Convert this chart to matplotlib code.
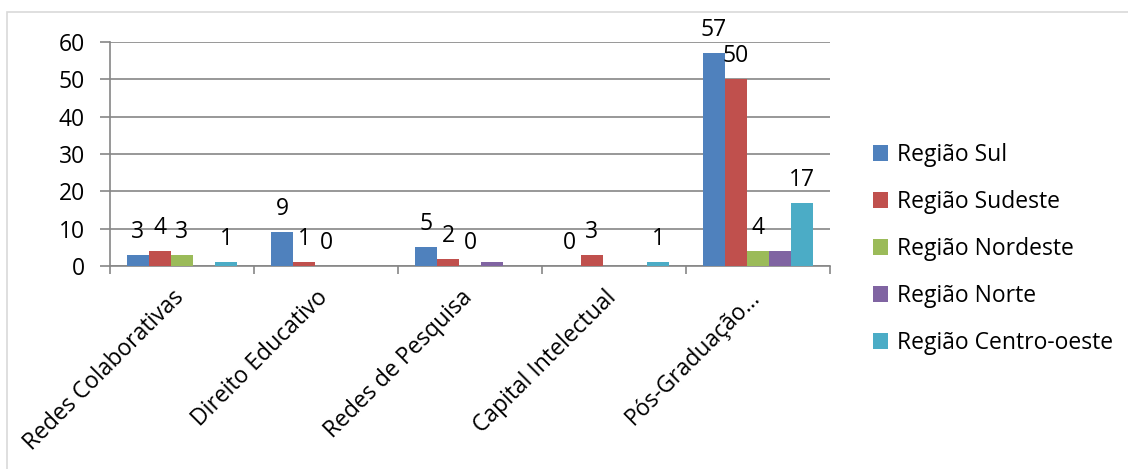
import numpy as np
import matplotlib
matplotlib.use("Agg")
import matplotlib.pyplot as plt
from matplotlib.transforms import ScaledTranslation
from matplotlib.patches import Rectangle

categories = ["Redes Colaborativas", "Direito Educativo", "Redes de Pesquisa",
              "Capital Intelectual", "Pós-Graduação…"]
series_names = ["Região Sul", "Região Sudeste", "Região Nordeste", "Região Norte",
                "Região Centro-oeste"]
nan = np.nan
sul = [3, 9, 5, 0, 57]
sudeste = [4, 1, 2, 3, 50]
nordeste = [3, 0, 0, nan, 4]
norte = [nan, nan, 1, nan, 4]
centro_oeste = [1, nan, nan, 1, 17]
show_labels = [True, True, True, False, True]
colors = ["#4F81BD", "#C0504D", "#9BBB59", "#8064A2", "#4BACC6"]
yticks = [0, 10, 20, 30, 40, 50, 60]

plt.rcParams['font.family'] = ['Open Sans', 'DejaVu Sans']
FS = 16.5
W, H = 1128, 469
DPI = 100
fig = plt.figure(figsize=(W / DPI, H / DPI), dpi=DPI)

# chart area border (top and left visible)
fig.patches.append(Rectangle((7 / W, -0.1), 1.2, (1 - 12 / H) + 0.1,
                             transform=fig.transFigure, fill=False,
                             edgecolor="#D9D9D9", lw=1.2))

ax = fig.add_axes([110 / W, (H - 266) / H, (830 - 110) / W, (266 - 42) / H])
grid_c = "#868686"
data = [sul, sudeste, nordeste, norte, centro_oeste]
x = np.arange(len(categories))
bw = 0.153
handles = []
for i, (vals, name, c) in enumerate(zip(data, series_names, colors)):
    off = (i - 2) * bw
    bars = ax.bar(x + off, vals, width=bw, color=c, label=name, zorder=3)
    handles.append(bars)
    if show_labels[i]:
        for xi, v in zip(x, vals):
            if np.isnan(v):
                continue
            ax.annotate(f"{int(v)}", xy=(xi + off, v), xytext=(0, 16.5),
                        textcoords="offset points", ha="center", va="center",
                        fontsize=FS, color="black", annotation_clip=False, zorder=4)

ax.set_xlim(-0.5, len(categories) - 0.5)
ax.set_ylim(0, 60)
ax.set_yticks(yticks)
ax.set_yticklabels([str(t) for t in yticks], fontsize=FS)
ax.yaxis.grid(True, color=grid_c, lw=1.2, zorder=0)
ax.set_axisbelow(True)
for s in ["top", "right"]:
    ax.spines[s].set_visible(False)
for s in ["left", "bottom"]:
    ax.spines[s].set_color(grid_c)
    ax.spines[s].set_linewidth(1.2)
ax.tick_params(axis="y", length=7, width=1.2, color=grid_c, pad=11)
ax.set_xticks(x)
ax.set_xticklabels(categories, fontsize=FS, rotation=45, ha="right",
                   rotation_mode="default")
ax.tick_params(axis="x", which="major", length=0, pad=14)
ax.set_xticks(np.arange(-0.5, len(categories)), minor=True)
ax.tick_params(axis="x", which="minor", length=6, width=1.2, color=grid_c)
for lab in ax.get_xticklabels():
    lab.set_transform(lab.get_transform() + ScaledTranslation(5 / 72, 0, fig.dpi_scale_trans))

fig.legend(handles=handles, labels=series_names, loc="center left",
           bbox_to_anchor=(873 / W, 1 - 249 / H), frameon=False, fontsize=FS,
           handlelength=0.66, handleheight=0.66, handletextpad=0.4,
           labelspacing=1.0, borderpad=0, borderaxespad=0)

fig.savefig("out.png", dpi=DPI)
